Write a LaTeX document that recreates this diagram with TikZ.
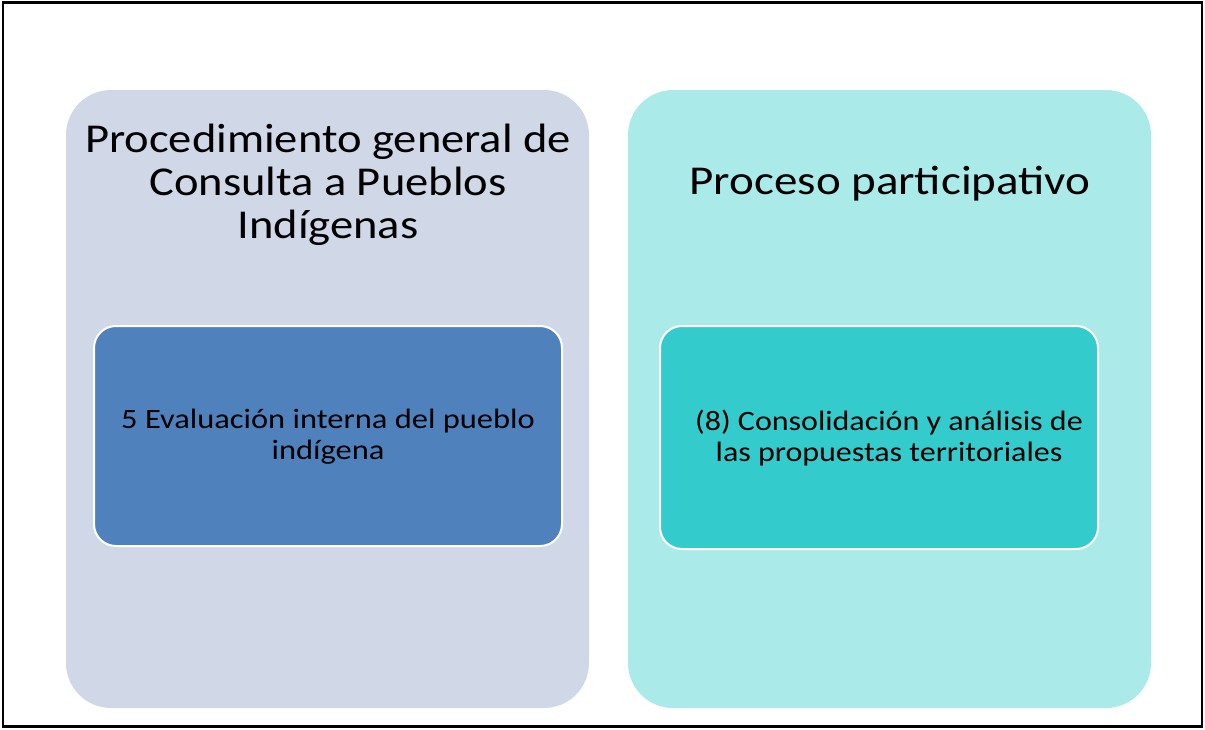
\documentclass[tikz,border=0pt]{standalone}
\usepackage{fontspec}
\setmainfont{Carlito}
\definecolor{lgray}{HTML}{D0D8E8}
\definecolor{lblue}{HTML}{4F81BD}
\definecolor{lcyan}{HTML}{AAEBE9}
\definecolor{dcyan}{HTML}{33CBCB}
\tikzset{
  outerbox/.style={rounded corners=45pt, minimum width=523pt, minimum height=618pt, inner sep=0pt, draw=none},
  innerbox/.style={rounded corners=22pt, draw=white, line width=2pt, inner sep=0pt},
  titletext/.style={align=center, font=\fontsize{41}{43}\selectfont, text=black, xscale=1.135},
  bodytext/.style={align=center, font=\fontsize{28}{31}\selectfont, text=black, xscale=1.16},
}
\begin{document}
\begin{tikzpicture}[x=1pt,y=-1pt]
\useasboundingbox (0,0) rectangle (1205,729);
\fill[white] (0,0) rectangle (1205,729);
\node[draw=black, line width=2.5pt, minimum width=1199pt, minimum height=724pt, inner sep=0pt] (frame) at (602.5,364.5) {};
\node[outerbox, fill=lgray] (left) at (327.5,399) {};
\node[outerbox, fill=lcyan] (right) at (889.5,399) {};
\node[innerbox, fill=lblue, minimum width=468pt, minimum height=220pt] (linner) at (328,436) {};
\node[innerbox, fill=dcyan, minimum width=438pt, minimum height=223pt] (rinner) at (879,437.5) {};
\node[titletext] (ltitle) at (328,185) {Procedimiento general de\\Consulta a Pueblos\\Indígenas};
\node[titletext, xscale=1.01] (rtitle) at (890,184) {Proceso participativo};
\node[bodytext] (ltext) at (328,437) {5 Evaluación interna del pueblo\\indígena};
\node[bodytext, xscale=0.985] (rtext) at (889,438) {(8) Consolidación y análisis de\\las propuestas territoriales};
\end{tikzpicture}
\end{document}
